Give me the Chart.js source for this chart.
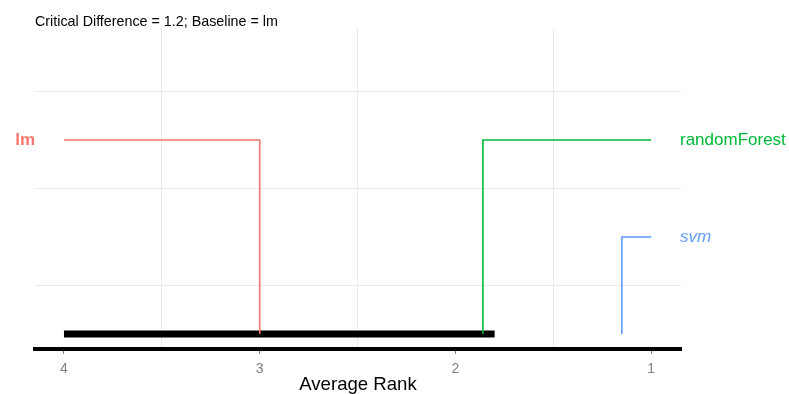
<!DOCTYPE html>
<html>
<head>
<meta charset="utf-8">
<script src="https://cdn.jsdelivr.net/npm/chart.js@4"></script>
<style>
  html, body { margin: 0; padding: 0; background: #fff; }
  #wrap { width: 789px; height: 394px; position: relative; }
</style>
</head>
<body>
<div id="wrap"><canvas id="cdChart"></canvas></div>
<script>
// datos del grafico
const learners = ['lm', 'randomForest', 'svm'];
const avgRank = [3, 1.86, 1.15];
const learnerColors = ['#F8766D', '#00BA38', '#619CFF'];
const rankTicks = [4, 3, 2, 1];
const criticalDiff = 1.2;
const baseline = 'lm';

Chart.defaults.font.family = "'Liberation Sans', Arial, sans-serif";

const baseRank = avgRank[learners.indexOf(baseline)];
const worstTick = Math.max(...rankTicks);
const bestTick = Math.min(...rankTicks);

// los peores a la izquierda, el resto a la derecha
const order = learners.map((l, i) => i).sort((a, b) => avgRank[b] - avgRank[a]);
const nLeft = Math.floor(learners.length / 2);
const side = [];
const level = [];
order.forEach((idx, k) => {
  if (k < nLeft) {
    side[idx] = 'left';
    level[idx] = 2 - k;
  } else {
    side[idx] = 'right';
    level[idx] = 2 - (k - nLeft);
  }
});

const datasets = learners.map((name, i) => {
  const endX = side[i] === 'left' ? worstTick : bestTick;
  return {
    label: name,
    data: [
      { x: endX, y: level[i] },
      { x: avgRank[i], y: level[i] },
      { x: avgRank[i], y: 0 }
    ],
    borderColor: learnerColors[i],
    borderWidth: 1.6,
    borderJoinStyle: 'miter',
    pointRadius: 0,
    tension: 0
  };
});

// barra de diferencia critica
datasets.push({
  label: 'cd',
  data: [
    { x: Math.min(worstTick, baseRank + criticalDiff), y: 0 },
    { x: Math.max(bestTick, baseRank - criticalDiff), y: 0 }
  ],
  borderColor: '#000',
  borderWidth: 7,
  pointRadius: 0
});

const labelPlugin = {
  id: 'learnerLabels',
  afterDatasetsDraw(chart) {
    const ctx = chart.ctx;
    const ys = chart.scales.y;
    const area = chart.chartArea;
    ctx.save();
    ctx.textBaseline = 'middle';
    learners.forEach((name, i) => {
      let style = 'normal';
      let weight = 'normal';
      if (name === baseline) weight = 'bold';
      else if (Math.abs(avgRank[i] - baseRank) > criticalDiff) style = 'italic';
      ctx.font = style + ' ' + weight + ' 17px ' + Chart.defaults.font.family;
      ctx.fillStyle = learnerColors[i];
      const y = ys.getPixelForValue(level[i]);
      if (side[i] === 'left') {
        ctx.textAlign = 'right';
        ctx.fillText(name, area.left, y);
      } else {
        ctx.textAlign = 'left';
        ctx.fillText(name, area.right - 1, y);
      }
    });
    ctx.font = '14.3px ' + Chart.defaults.font.family;
    ctx.fillStyle = '#000';
    ctx.textAlign = 'left';
    ctx.fillText('Critical Difference = ' + criticalDiff + '; Baseline = ' + baseline, area.left, 22);
    ctx.restore();
  }
};

const ctx = document.getElementById('cdChart').getContext('2d');
new Chart(ctx, {
  type: 'line',
  data: { datasets: datasets },
  options: {
    responsive: true,
    maintainAspectRatio: false,
    animation: false,
    layout: { padding: { left: 35, right: 108, top: 28, bottom: 0 } },
    plugins: {
      legend: { display: false },
      tooltip: { enabled: false }
    },
    scales: {
      x: {
        type: 'linear',
        reverse: true,
        min: 0.848,
        max: 4.148,
        afterBuildTicks: function(scale) {
          const t = [];
          rankTicks.forEach(v => {
            t.push({ value: v });
            if (v > bestTick) t.push({ value: v - 0.5 });
          });
          scale.ticks = t;
        },
        afterFit: function(scale) { scale.height = 45; },
        border: { display: true, color: '#000', width: 4 },
        grid: {
          color: c => Number.isInteger(c.tick.value) ? 'rgba(0,0,0,0)' : '#ebebeb',
          tickColor: c => Number.isInteger(c.tick.value) ? '#7f7f7f' : 'rgba(0,0,0,0)',
          tickLength: 5,
          lineWidth: 1
        },
        ticks: {
          color: '#7f7f7f',
          font: { size: 14 },
          padding: 7,
          maxRotation: 0,
          callback: v => Number.isInteger(v) ? String(v) : ''
        },
        title: {
          display: true,
          text: 'Average Rank',
          color: '#000',
          font: { size: 18.6 },
          padding: { top: 0, bottom: -2 }
        }
      },
      y: {
        min: -0.155,
        max: 3.155,
        afterBuildTicks: function(scale) {
          scale.ticks = [0.5, 1.5, 2.5].map(v => ({ value: v }));
        },
        afterFit: function(scale) { scale.width = 0; },
        border: { display: false },
        grid: { color: '#ebebeb', drawTicks: false, lineWidth: 1 },
        ticks: { display: false }
      }
    }
  },
  plugins: [labelPlugin]
});
</script>
</body>
</html>
